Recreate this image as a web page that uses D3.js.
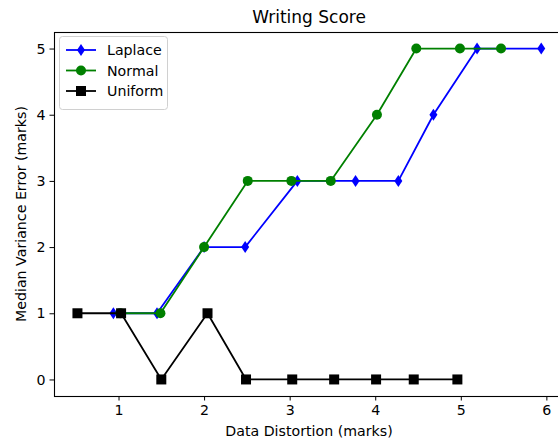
<!DOCTYPE html>
<html>
<head>
<meta charset="utf-8">
<script src="https://cdn.jsdelivr.net/npm/d3@7"></script>
<style>
  html, body { margin: 0; padding: 0; background: #fff; }
  svg { display: block; font-family: "DejaVu Sans", sans-serif; }
</style>
</head>
<body>
<svg id="chart" width="558" height="443"></svg>
<script>
// Writing score: median variance error against data distortion
const laplaceX = [0.94, 1.45, 2.00, 2.48, 3.09, 3.77, 4.27, 4.68, 5.19, 5.94];
const laplaceY = [1, 1, 2, 2, 3, 3, 3, 4, 5, 5];
const normalX = [1.02, 1.49, 2.00, 2.51, 3.02, 3.48, 4.02, 4.48, 4.99, 5.47];
const normalY = [1, 1, 2, 3, 3, 3, 4, 5, 5, 5];
const uniformX = [0.52, 1.03, 1.50, 2.04, 2.49, 3.03, 3.52, 4.01, 4.45, 4.96];
const uniformY = [1, 1, 0, 1, 0, 0, 0, 0, 0, 0];
const xTicks = [1, 2, 3, 4, 5, 6];
const yTicks = [0, 1, 2, 3, 4, 5];

const series = [
  { name: "Laplace", xs: laplaceX, ys: laplaceY, color: "#0000ff", marker: "diamond" },
  { name: "Normal", xs: normalX, ys: normalY, color: "#008000", marker: "circle" },
  { name: "Uniform", xs: uniformX, ys: uniformY, color: "#000000", marker: "square" }
];

const svg = d3.select("#chart");
const m = { left: 54, top: 32, right: 564, bottom: 396 };
const fs = 14.2;

const x = d3.scaleLinear().domain([0.246, 6.206]).range([m.left, m.right]);
const y = d3.scaleLinear().domain([-0.25, 5.25]).range([m.bottom, m.top]);

const plot = svg.append("g");

// axes
const xAxis = svg.append("g")
  .attr("transform", `translate(0,${m.bottom})`)
  .call(d3.axisBottom(x).tickValues(xTicks).tickFormat(d3.format("d")).tickSize(4.5).tickPadding(4));
const yAxis = svg.append("g")
  .attr("transform", `translate(${m.left},0)`)
  .call(d3.axisLeft(y).tickValues(yTicks).tickFormat(d3.format("d")).tickSize(4.5).tickPadding(4));
[xAxis, yAxis].forEach(a => {
  a.select(".domain").remove();
  a.selectAll("text").attr("font-size", fs).attr("fill", "#000").attr("font-family", "DejaVu Sans, sans-serif");
  a.selectAll("line").attr("stroke", "#000").attr("stroke-width", 1);
});

// spines
svg.append("rect")
  .attr("x", m.left + 0.5).attr("y", m.top + 0.5)
  .attr("width", m.right - m.left).attr("height", m.bottom - m.top)
  .attr("fill", "none").attr("stroke", "#000").attr("stroke-width", 1.1);

function drawMarker(g, kind, cx, cy, color) {
  if (kind === "diamond") {
    g.append("path")
      .attr("d", `M${cx},${cy - 6}L${cx + 4},${cy}L${cx},${cy + 6}L${cx - 4},${cy}Z`)
      .attr("fill", color);
  } else if (kind === "circle") {
    g.append("circle").attr("cx", cx).attr("cy", cy).attr("r", 5).attr("fill", color);
  } else {
    g.append("rect").attr("x", cx - 5).attr("y", cy - 5).attr("width", 10).attr("height", 10).attr("fill", color);
  }
}

const line = d3.line().x(d => x(d[0])).y(d => y(d[1]));

series.forEach(s => {
  const pts = s.xs.map((v, i) => [v, s.ys[i]]);
  const g = plot.append("g");
  g.append("path")
    .attr("d", line(pts))
    .attr("fill", "none")
    .attr("stroke", s.color)
    .attr("stroke-width", 1.8)
    .attr("stroke-linejoin", "round");
  pts.forEach(p => drawMarker(g, s.marker, x(p[0]), y(p[1]), s.color));
});

// title and axis labels
svg.append("text")
  .attr("x", (m.left + m.right) / 2).attr("y", 23)
  .attr("text-anchor", "middle").attr("font-size", 17).attr("fill", "#000")
  .text("Writing Score");
svg.append("text")
  .attr("x", (m.left + m.right) / 2).attr("y", 436)
  .attr("text-anchor", "middle").attr("font-size", fs).attr("fill", "#000")
  .text("Data Distortion (marks)");
svg.append("text")
  .attr("transform", `translate(26,${(m.top + m.bottom) / 2}) rotate(-90)`)
  .attr("text-anchor", "middle").attr("font-size", fs).attr("fill", "#000")
  .text("Median Variance Error (marks)");

// legend
const lg = svg.append("g");
lg.append("rect")
  .attr("x", 59.5).attr("y", 36.5).attr("width", 108).attr("height", 73).attr("rx", 3)
  .attr("fill", "#fff").attr("fill-opacity", 0.8)
  .attr("stroke", "#d0d0d0").attr("stroke-width", 1);
series.forEach((s, i) => {
  const cy = 50 + i * 20.5;
  lg.append("line").attr("x1", 66).attr("x2", 96).attr("y1", cy).attr("y2", cy)
    .attr("stroke", s.color).attr("stroke-width", 1.8);
  drawMarker(lg, s.marker, 81, cy, s.color);
  lg.append("text").attr("x", 107).attr("y", cy + 5)
    .attr("font-size", fs).attr("fill", "#000").text(s.name);
});
</script>
</body>
</html>
